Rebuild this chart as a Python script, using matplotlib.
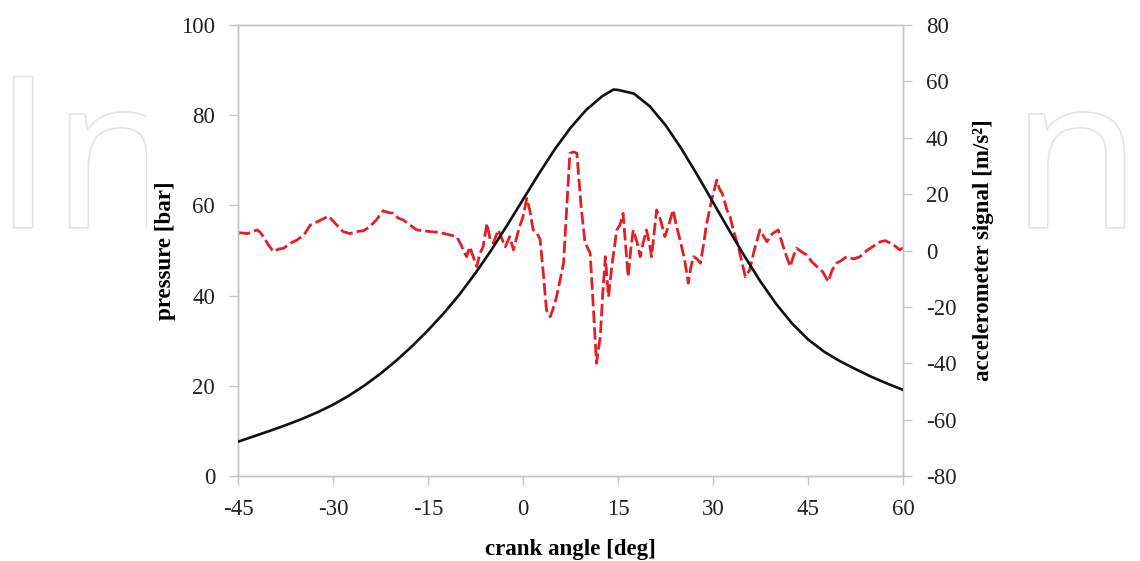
import numpy as np
import matplotlib.pyplot as plt
from matplotlib import patheffects
from matplotlib.patches import Rectangle

# pressure curve (left axis), every 2.5 deg
crank_angle = [-45, -42.5, -40, -37.5, -35, -32.5, -30, -27.5, -25, -22.5,
               -20, -17.5, -15, -12.5, -10, -7.5, -5, -2.5, 0, 2.5,
               5, 7.5, 10, 12.5, 14.3, 15, 17.5, 20, 22.5, 25, 27.5,
               30, 32.5, 35, 37.5, 40, 42.5, 45, 47.5, 50, 52.5,
               55, 57.5, 60]
pressure = [7.6, 8.8, 10.0, 11.25, 12.6, 14.1, 15.8, 17.8, 20.1, 22.7,
            25.6, 28.8, 32.3, 36.1, 40.3, 45.0, 50.1, 55.6, 61.3, 67.0,
            72.4, 77.2, 81.2, 84.2, 85.7, 85.6, 84.8, 82.0, 77.8, 72.6, 66.8,
            60.7, 54.6, 48.7, 43.1, 38.1, 33.8, 30.3, 27.6, 25.5, 23.7,
            22.0, 20.5, 19.1]

# accelerometer signal (right axis)
acc_angle = [-45.0, -44.7, -43.5, -42.0, -41.5, -41.0, -40.2, -39.4, -38.6, -37.8,
             -36.8, -35.7, -34.6, -33.6, -32.2, -30.7, -29.6, -28.4, -27.3, -26.3,
             -25.2, -24.2, -23.1, -22.1, -21.3, -20.5, -19.7, -18.9, -17.8, -16.8,
             -15.7, -14.7, -13.6, -12.6, -11.5, -10.5, -9.9, -9.4, -8.9, -8.4,
             -7.9, -7.3, -6.8, -6.3, -5.7, -5.2, -4.7, -3.9, -3.3, -2.8,
             -2.1, -1.5, -0.7, 0.0, 0.6, 1.1, 1.6, 2.2, 2.7, 3.2,
             3.7, 4.3, 4.7, 5.3, 5.9, 6.4, 6.9, 7.4, 8.0, 8.5,
             9.2, 9.8, 10.2, 10.6, 11.1, 11.6, 12.2, 12.6, 13.0, 13.5,
             14.0, 14.3, 14.8, 15.3, 15.8, 16.2, 16.6, 17.0, 17.4, 18.0,
             18.5, 19.0, 19.5, 20.0, 20.3, 20.7, 21.1, 21.7, 22.4, 23.0,
             23.7, 24.2, 24.8, 25.5, 26.1, 26.5, 26.9, 27.5, 28.0, 28.5,
             29.0, 29.8, 30.6, 31.0, 31.5, 32.2, 32.7, 33.2, 34.0, 35.1,
             35.8, 36.5, 37.4, 38.0, 38.5, 39.4, 40.3, 41.1, 41.6, 42.2,
             42.7, 43.2, 44.0, 44.8, 45.6, 46.4, 47.3, 48.2, 48.8, 49.5,
             50.3, 51.1, 52.2, 53.2, 54.3, 55.3, 56.4, 57.2, 58.0, 58.8,
             59.5, 60.0]
acc_signal = [6.0, 6.3, 6.0, 7.3, 6.5, 4.9, 2.0, -0.4, 0.5, 0.8,
              2.5, 3.7, 5.5, 9.0, 10.5, 12.2, 9.5, 6.7, 6.0, 6.7,
              7.0, 8.4, 11.0, 14.1, 13.5, 13.2, 11.5, 10.8, 9.0, 7.3,
              7.0, 6.7, 6.5, 6.1, 5.5, 4.9, 2.6, 0.0, -2.2, 1.3,
              -2.0, -5.7, -1.0, 1.3, 9.6, 4.0, 2.6, 7.3, 4.0, 1.3,
              4.9, 0.2, 7.3, 12.0, 18.5, 14.0, 7.3, 6.1, 4.0, -8.0,
              -21.1, -23.5, -21.0, -16.4, -10.0, -4.5, 15.0, 34.5, 35.0, 34.5,
              15.0, 2.6, 1.0, -1.0, -20.0, -40.0, -30.6, -15.0, -2.2, -16.4,
              -6.0, -1.0, 7.3, 9.0, 13.2, 2.0, -9.3, 0.0, 7.3, 3.0,
              -2.2, 3.0, 7.3, 2.0, -2.2, 6.0, 14.4, 11.0, 4.9, 9.0,
              14.4, 9.0, 3.7, -3.0, -11.6, -6.0, -2.2, -3.0, -4.5, 2.0,
              9.6, 18.0, 25.0, 22.0, 20.0, 14.4, 12.0, 7.3, 1.3, -9.3,
              -6.9, 0.0, 7.3, 5.0, 3.1, 6.0, 7.3, 1.3, -2.0, -5.7,
              -2.0, 0.8, -0.5, -1.6, -4.0, -5.7, -7.5, -11.0, -7.0, -4.5,
              -3.5, -2.2, -3.0, -2.2, 0.0, 1.5, 3.1, 3.5, 2.6, 1.5,
              0.2, 1.0]

x_ticks = [-45, -30, -15, 0, 15, 30, 45, 60]
p_ticks = [0, 20, 40, 60, 80, 100]
a_ticks = [-80, -60, -40, -20, 0, 20, 40, 60, 80]

plt.rcParams['font.family'] = ['Liberation Serif', 'DejaVu Serif']
plt.rcParams['axes.unicode_minus'] = False

fig = plt.figure(figsize=(11.4, 5.61), dpi=100)
W, H = 1140, 561

# faint watermark behind the chart, covered by a white box in the middle
fig.text(-6 / W, (561 - 227) / H, 'IntechOpen', family='Open Sans',
         fontsize=151, color='white', ha='left', va='baseline', zorder=-3,
         path_effects=[patheffects.withStroke(linewidth=2.4, foreground='#e4e4e4')])
fig.patches.append(Rectangle((147 / W, 0), (1005 - 147) / W, 1, transform=fig.transFigure,
                             facecolor='white', edgecolor='none', zorder=-2))

ax = fig.add_axes([238 / W, (561 - 476) / H, 665 / W, 451 / H])
ax.plot(crank_angle, pressure, color='#111111', lw=1.9, zorder=3)
ax.set_xlim(-45, 60)
ax.set_ylim(0, 100)
ax.set_xticks(x_ticks)
ax.set_yticks(p_ticks)
ax.set_xlabel('crank angle [deg]', fontsize=16.5, fontweight='bold', labelpad=14)
ax.set_ylabel('pressure [bar]', fontsize=16.5, fontweight='bold', labelpad=4)

ax2 = ax.twinx()
ax2.plot(acc_angle, acc_signal, color='#e41e26', lw=2.0, dashes=(4.5, 1.5), zorder=2)
ax2.set_ylim(-80, 80)
ax2.set_yticks(a_ticks)
ax2.set_ylabel('accelerometer signal [m/s²]', fontsize=16.5, fontweight='bold', labelpad=12)

for a in (ax, ax2):
    for s in a.spines.values():
        s.set_color('#c4c4c4')
        s.set_linewidth(1.0)
    a.tick_params(axis='both', direction='out', length=6.5, width=1.0, color='#c4c4c4',
                  labelsize=16.5, labelcolor='#222222', pad=10)

ax.set_zorder(ax2.get_zorder() + 1)
ax.patch.set_visible(False)
ax2.patch.set_facecolor('white')

fig.savefig('out.png', dpi=100)
